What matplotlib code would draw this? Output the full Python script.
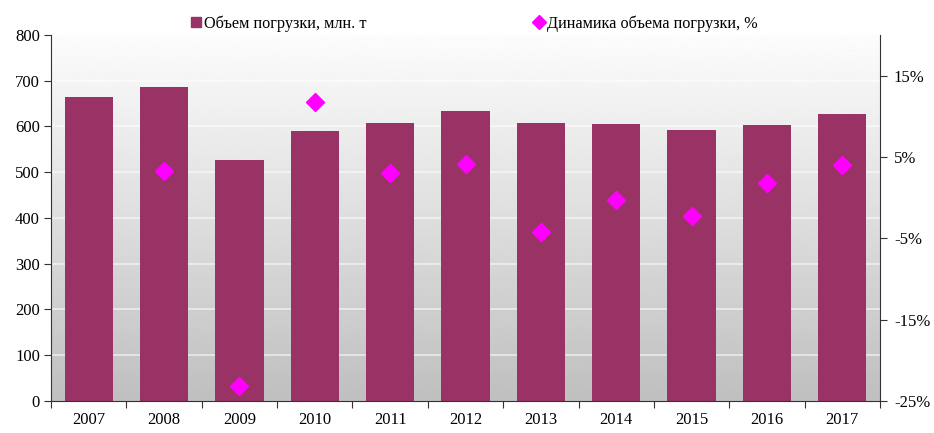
import numpy as np
import matplotlib.pyplot as plt
from matplotlib.lines import Line2D
from matplotlib.ticker import FuncFormatter

years = ['2007', '2008', '2009', '2010', '2011', '2012', '2013', '2014', '2015', '2016', '2017']
volume = [664, 686, 527, 590, 608, 634, 608, 606, 592, 603, 627]
growth = [None, 3.3, -23.1, 11.8, 3.0, 4.1, -4.2, -0.3, -2.3, 1.8, 4.0]

bar_color = '#993366'
dot_color = '#ff00ff'

plt.rcParams['font.family'] = ['Liberation Serif', 'DejaVu Serif']
plt.rcParams['font.size'] = 12

fig = plt.figure(figsize=(9.34, 4.33), dpi=100)
ax = fig.add_axes([0.0546, 0.0739, 0.8876, 0.8453])

x = np.arange(len(years))

# grey gradient background
grad = np.linspace(0.99, 0.75, 256).reshape(-1, 1)
ax.imshow(grad, cmap='gray', vmin=0, vmax=1, aspect='auto',
          extent=(-0.5, 10.5, 0, 800), origin='upper', zorder=0)
for v in range(100, 800, 100):
    ax.axhline(v, color='white', lw=1.2, alpha=0.6, zorder=1)

ax.bar(x, volume, width=0.64, color=bar_color, zorder=2)

ax.set_xlim(-0.5, 10.5)
ax.set_ylim(0, 800)
ax.set_yticks(range(0, 801, 100))
ax.set_xticks(np.arange(-0.5, 11, 1))
ax.set_xticklabels([])
ax.set_xticks(x, minor=True)
ax.set_xticklabels(years, minor=True)
ax.tick_params(axis='x', which='major', length=5, direction='out', color='#333333')
ax.tick_params(axis='x', which='minor', length=0, pad=8)
ax.tick_params(axis='y', length=5, direction='out', color='#333333', pad=3)
ax.spines['top'].set_visible(False)
ax.spines['right'].set_visible(False)
for s in ['left', 'bottom']:
    ax.spines[s].set_color('#333333')

ax2 = ax.twinx()
gx = [i for i, g in enumerate(growth) if g is not None]
gy = [g for g in growth if g is not None]
ax2.plot(gx, gy, linestyle='none', marker='D', ms=9.5, color=dot_color, zorder=3)
ax2.set_ylim(-25, 20)
ax2.set_yticks([-25, -15, -5, 5, 15])
ax2.yaxis.set_major_formatter(FuncFormatter(lambda v, p: '%d%%' % v))
ax2.tick_params(axis='y', length=5, direction='out', color='#333333', pad=5)
ax2.spines['top'].set_visible(False)
ax2.spines['left'].set_visible(False)
ax2.spines['bottom'].set_visible(False)
ax2.spines['right'].set_color('#333333')

handles = [
    Line2D([], [], linestyle='none', marker='s', ms=6.5, color=bar_color),
    Line2D([], [], linestyle='none', marker='D', ms=7.5, color=dot_color),
]
labels = ['Объем погрузки, млн. т', 'Динамика объема погрузки, %']
fig.legend(handles, labels, ncol=2, loc='center', bbox_to_anchor=(0.508, 0.945),
           frameon=False, handlelength=0.6, handletextpad=0.2, columnspacing=10.3,
           fontsize=11.7)

plt.savefig('out.png', dpi=100)
